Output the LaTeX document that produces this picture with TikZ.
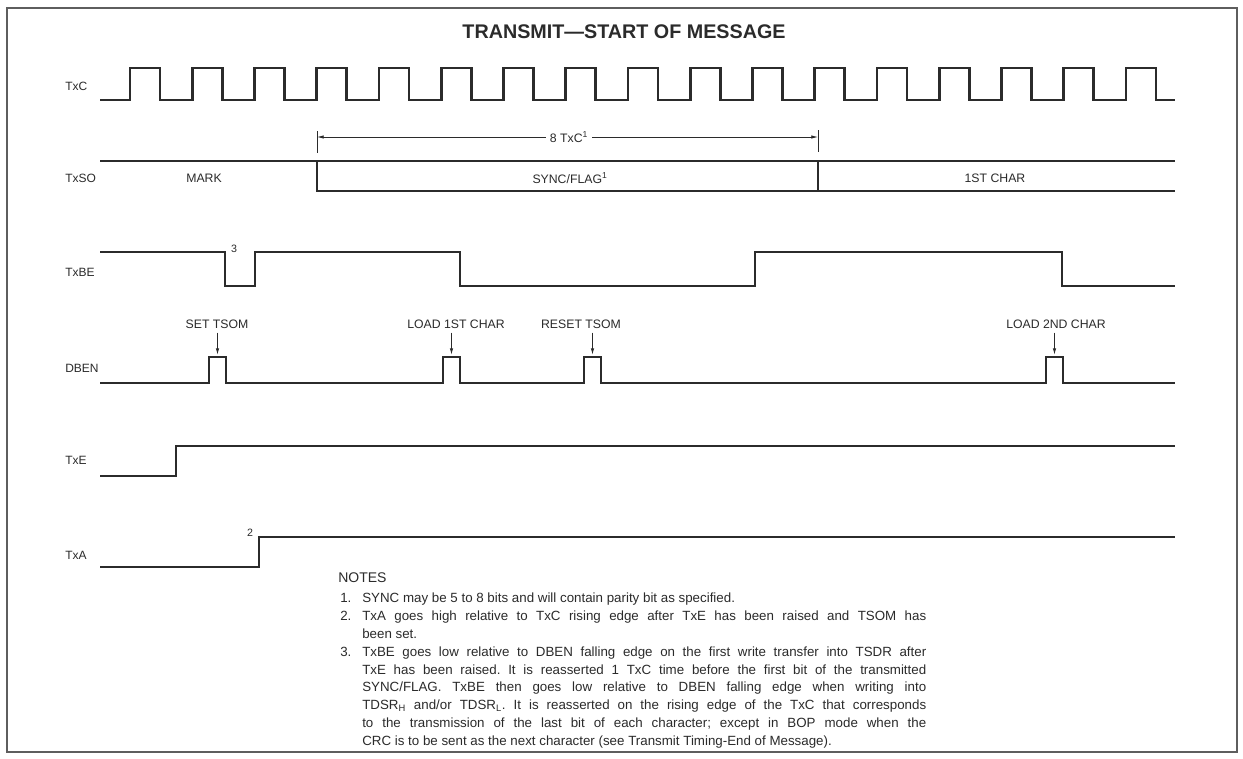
\documentclass[tikz,border=0pt]{standalone}
\usepackage{fontspec}
\setmainfont{Liberation Sans}
\usepackage{tikz}
\usetikzlibrary{arrows.meta,positioning,calc}
\definecolor{Ink}{HTML}{2B2B2B}
\definecolor{Rule}{HTML}{5E5E5E}
\tikzset{
  every node/.append style={text=Ink},
  wave/.style={draw=Ink, line width=1.9pt, line join=miter},
  frame/.style={draw=Rule, line width=0.8pt},
  sig/.style={font=\fontsize{9}{10}\selectfont, anchor=west, inner sep=0pt},
  evt/.style={font=\fontsize{9.2}{10}\selectfont, inner sep=1pt},
  fnum/.style={font=\fontsize{8}{9}\selectfont, inner sep=0pt},
  tick/.style={draw=Ink, line width=0.6pt},
  dim/.style={-{Latex[length=5pt,width=2.6pt]}, draw=Ink, line width=0.6pt},
  pointer/.style={-{Latex[length=5pt,width=2.6pt]}, draw=Ink, line width=0.7pt, shorten <=2pt, shorten >=1.5pt},
  note/.style={font=\fontsize{10}{13.35}\selectfont\frenchspacing, anchor=north west, inner sep=0pt, align=left},
}
\newcommand{\nnum}[1]{\makebox[16.5pt][l]{#1}}
\newcommand{\jline}[1]{\makebox[423pt][s]{#1}}

\begin{document}
\begin{tikzpicture}[x=0.75pt, y=-0.75pt]
  \useasboundingbox (0,0) rectangle (1243,758);
  \fill[white] (0,0) rectangle (1243,758);
  \draw[frame] (7,8) rectangle (1237,752);

  \node[font=\fontsize{14.8}{16}\selectfont\bfseries] (title) at (624,32) {TRANSMIT—START OF MESSAGE};

  % signal names
  \node[sig] (txc)  at (65,86)  {TxC};
  \node[sig] (txso) at (65,178) {TxSO};
  \node[sig] (txbe) at (65,272) {TxBE};
  \node[sig] (dben) at (65,368) {DBEN};
  \node[sig] (txe)  at (65,460) {TxE};
  \node[sig] (txa)  at (65,555) {TxA};

  % TxC
  \draw[wave] (100,100) foreach \i in {0,...,16} {
      -- ({130+62.25*\i},100) -- ++(0,-32) -- ++(30,0) -- ++(0,32) } -- (1175,100);

  % 8 TxC span
  \coordinate (spanL) at (317,137);
  \coordinate (spanR) at (818,137);
  \draw[tick] (317,131) -- (317,153);
  \draw[tick] (818,130) -- (818,152);
  \node[evt, inner sep=3pt] (span) at (569,137) {8 TxC\textsuperscript{1}};
  \draw[dim] (span) -- (spanL);
  \draw[dim] (span) -- (spanR);

  % TxSO
  \draw[wave] (100,161) -- (1175,161);
  \draw[wave] (317,161) -- (317,191) -- (1175,191);
  \draw[wave] (818,161) -- (818,191);
  \node[evt] (mark) at (204,178) {MARK};
  \node[evt] (sync) at (570,178) {SYNC/FLAG\textsuperscript{1}};
  \node[evt] (char1) at (995,178) {1ST CHAR};

  % TxBE
  \draw[wave] (100,252) -- (225,252) -- (225,286) -- (255,286) -- (255,252) -- (460,252)
      -- (460,286) -- (755,286) -- (755,252) -- (1062,252) -- (1062,286) -- (1175,286);
  \node[fnum] (n3) at (234,249) {3};

  % DBEN
  \draw[wave] (100,383) foreach \a in {209,443,584,1046} {
      -- (\a,383) -- ++(0,-26) -- ++(17,0) -- ++(0,26) } -- (1175,383);
  \coordinate (p1) at (217.5,357);
  \coordinate (p2) at (451.5,357);
  \coordinate (p3) at (592.5,357);
  \coordinate (p4) at (1054.5,357);
  \node[evt] (settsom) at (217,324) {SET TSOM};
  \node[evt] (load1) at (456,324) {LOAD 1ST CHAR};
  \node[evt] (resettsom) at (581,324) {RESET TSOM};
  \node[evt] (load2) at (1056,324) {LOAD 2ND CHAR};
  \draw[pointer] (settsom.south -| p1) -- (p1);
  \draw[pointer] (load1.south -| p2) -- (p2);
  \draw[pointer] (resettsom.south -| p3) -- (p3);
  \draw[pointer] (load2.south -| p4) -- (p4);

  % TxE, TxA
  \draw[wave] (100,476) -- (176,476) -- (176,446) -- (1175,446);
  \draw[wave] (100,567) -- (259,567) -- (259,537) -- (1175,537);
  \node[fnum] (n2) at (250,533) {2};

  % notes
  \node[font=\fontsize{10.5}{12}\selectfont, anchor=west, inner sep=0pt] (notes) at (338,578) {NOTES};
  \node[note] (notebody) at (340,593) {%
    \nnum{1.}SYNC may be 5 to 8 bits and will contain parity bit as specified.\\
    \nnum{2.}\jline{TxA goes high relative to TxC rising edge after TxE has been raised and TSOM has}\\
    \hspace*{16.5pt}been set.\\
    \nnum{3.}\jline{TxBE goes low relative to DBEN falling edge on the first write transfer into TSDR after}\\
    \hspace*{16.5pt}\jline{TxE has been raised. It is reasserted 1 TxC time before the first bit of the transmitted}\\
    \hspace*{16.5pt}\jline{SYNC/FLAG. TxBE then goes low relative to DBEN falling edge when writing into}\\
    \hspace*{16.5pt}\jline{TDSR\textsubscript{H} and/or TDSR\textsubscript{L}. It is reasserted on the rising edge of the TxC that corresponds}\\
    \hspace*{16.5pt}\jline{to the transmission of the last bit of each character; except in BOP mode when the}\\
    \hspace*{16.5pt}CRC is to be sent as the next character (see Transmit Timing-End of Message).};
\end{tikzpicture}
\end{document}
